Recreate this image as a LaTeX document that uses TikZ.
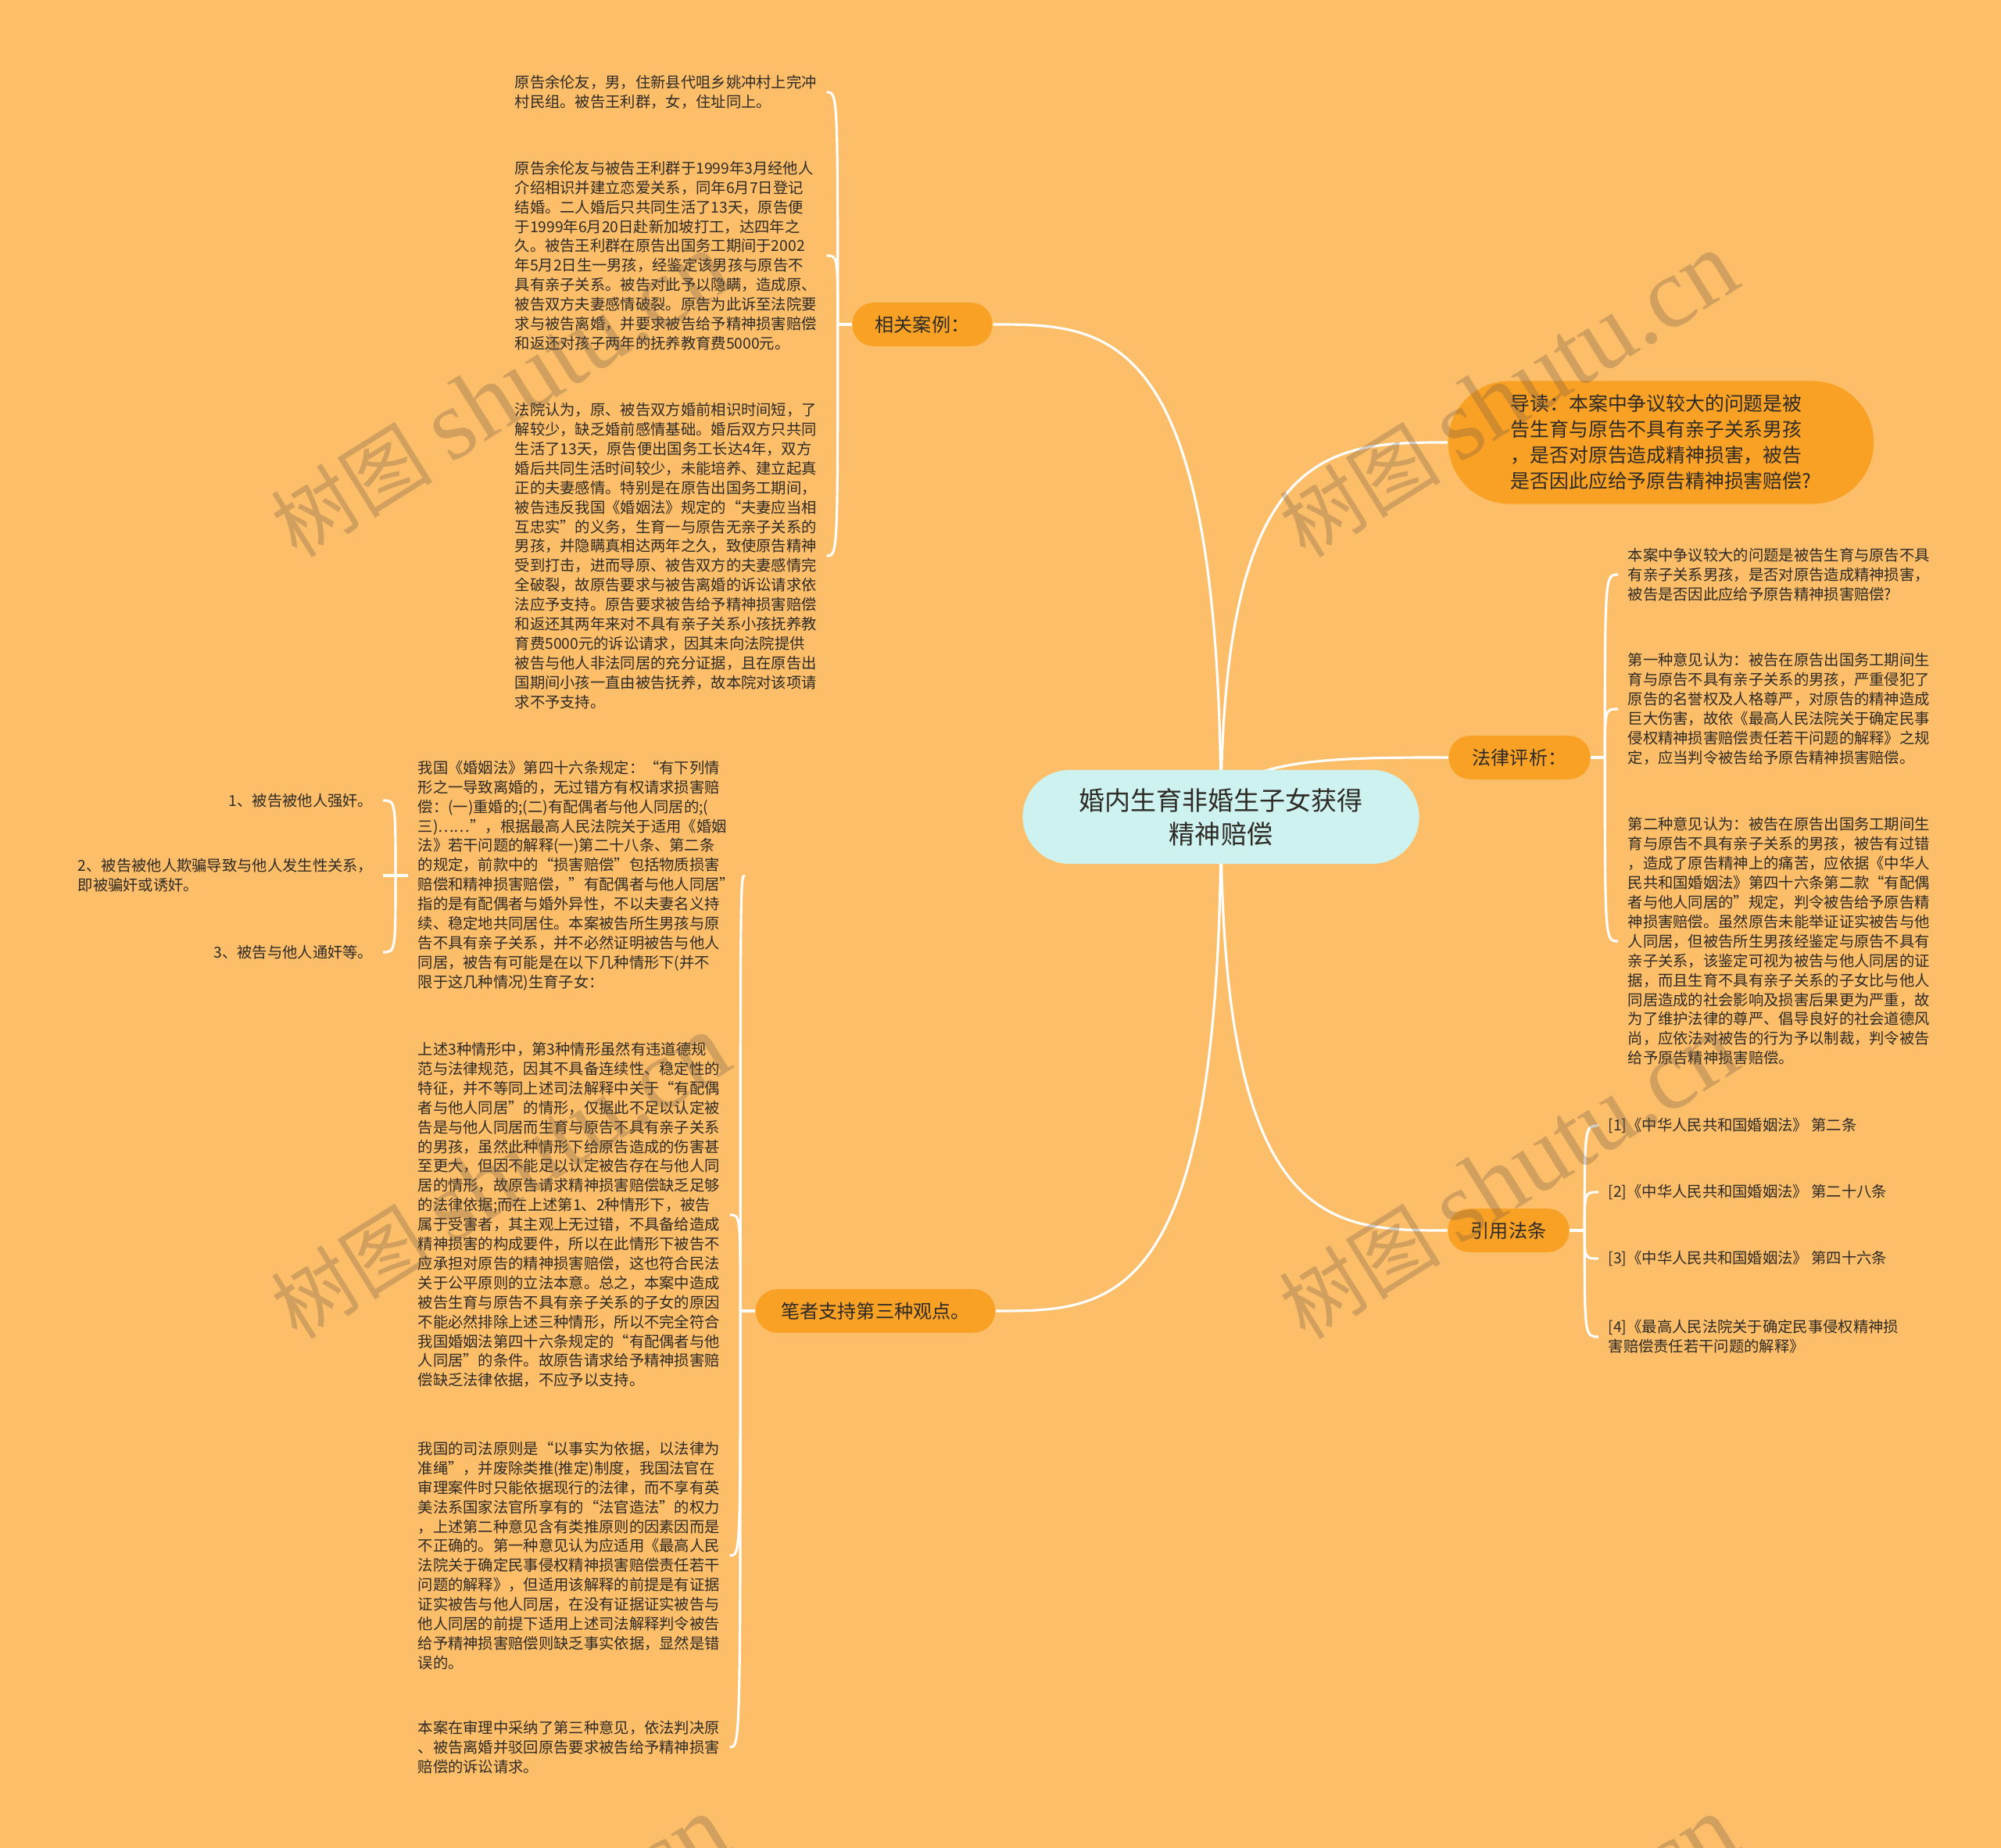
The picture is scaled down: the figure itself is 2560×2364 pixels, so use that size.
\documentclass[tikz,border=0pt]{standalone}
\usepackage{fontspec}
\setmainfont{Noto Sans CJK SC}
\newfontfamily\wmlatin{Liberation Serif}
\usetikzlibrary{calc}
\pgfdeclarelayer{bglayer}
\pgfdeclarelayer{edgelayer}
\pgfdeclarelayer{toplayer}
\pgfsetlayers{bglayer,edgelayer,main,toplayer}
\definecolor{bg}{HTML}{FDBE69}
\definecolor{orng}{HTML}{F9A124}
\definecolor{ctrfill}{HTML}{CDF2EF}
\definecolor{txt}{HTML}{2E2A25}
\definecolor{wm}{HTML}{6E5A46}
\begin{document}
\begin{tikzpicture}[x=0.01cm,y=-0.01cm,
  conn/.style={draw=white,line width=0.9pt},
  small/.style={font=\fontsize{5.49pt}{7.08pt}\selectfont,text=txt,align=left,inner xsep=0.12cm,inner ysep=0.05cm},
  branch/.style={fill=orng,rounded corners=0.27cm,font=\fontsize{6.85pt}{9.4pt}\selectfont,text=txt,inner sep=0pt,minimum height=0.555cm},
  wmark/.style={text=wm,opacity=0.3,rotate=32,inner sep=0pt}]

\begin{pgfonlayer}{bglayer}
\fill[bg] (0,0) rectangle (2560,2364);
\end{pgfonlayer}
\useasboundingbox (0,0) rectangle (2560,2364);

% central node
\node[fill=ctrfill,rounded corners=0.6cm,minimum width=5.07cm,minimum height=1.2cm,inner sep=0pt,align=center,
  font=\fontsize{9.39pt}{12.2pt}\selectfont,text=txt] (ctr) at (1562,1045) {婚内生育非婚生子女获得\\精神赔偿};

% branches
\node[branch,minimum width=1.79cm] (r1) at (1180,415) {相关案例：};
\node[fill=orng,rounded corners=0.78cm,minimum width=5.44cm,minimum height=1.57cm,inner sep=0pt,align=left,
  font=\fontsize{7.06pt}{9.39pt}\selectfont,text=txt] (r2) at (2125,566) {导读：本案中争议较大的问题是被\\告生育与原告不具有亲子关系男孩\\，是否对原告造成精神损害，被告\\是否因此应给予原告精神损害赔偿?};
\node[branch,minimum width=1.81cm] (r3) at (1944,969) {法律评析：};
\node[branch,minimum width=1.55cm] (r4) at (1930,1574) {引用法条};
\node[branch,minimum width=3.06cm] (r5) at (1120,1677) {笔者支持第三种观点。};

% children of r1
\node[small,anchor=west] (c11) at (646,118) {原告余伦友，男，住新县代咀乡姚冲村上完冲\\村民组。被告王利群，女，住址同上。};
\node[small,anchor=west] (c12) at (646,327) {原告余伦友与被告王利群于1999年3月经他人\\介绍相识并建立恋爱关系，同年6月7日登记\\结婚。二人婚后只共同生活了13天，原告便\\于1999年6月20日赴新加坡打工，达四年之\\久。被告王利群在原告出国务工期间于2002\\年5月2日生一男孩，经鉴定该男孩与原告不\\具有亲子关系。被告对此予以隐瞒，造成原、\\被告双方夫妻感情破裂。原告为此诉至法院要\\求与被告离婚，并要求被告给予精神损害赔偿\\和返还对孩子两年的抚养教育费5000元。};
\node[small,anchor=west] (c13) at (646,711) {法院认为，原、被告双方婚前相识时间短，了\\解较少，缺乏婚前感情基础。婚后双方只共同\\生活了13天，原告便出国务工长达4年，双方\\婚后共同生活时间较少，未能培养、建立起真\\正的夫妻感情。特别是在原告出国务工期间，\\被告违反我国《婚姻法》规定的“夫妻应当相\\互忠实”的义务，生育一与原告无亲子关系的\\男孩，并隐瞒真相达两年之久，致使原告精神\\受到打击，进而导原、被告双方的夫妻感情完\\全破裂，故原告要求与被告离婚的诉讼请求依\\法应予支持。原告要求被告给予精神损害赔偿\\和返还其两年来对不具有亲子关系小孩抚养教\\育费5000元的诉讼请求，因其未向法院提供\\被告与他人非法同居的充分证据，且在原告出\\国期间小孩一直由被告抚养，故本院对该项请\\求不予支持。};

% children of r3
\node[small,anchor=west] (c21) at (2070,735) {本案中争议较大的问题是被告生育与原告不具\\有亲子关系男孩，是否对原告造成精神损害，\\被告是否因此应给予原告精神损害赔偿?};
\node[small,anchor=west] (c22) at (2070,907) {第一种意见认为：被告在原告出国务工期间生\\育与原告不具有亲子关系的男孩，严重侵犯了\\原告的名誉权及人格尊严，对原告的精神造成\\巨大伤害，故依《最高人民法院关于确定民事\\侵权精神损害赔偿责任若干问题的解释》之规\\定，应当判令被告给予原告精神损害赔偿。};
\node[small,anchor=west] (c23) at (2070,1204) {第二种意见认为：被告在原告出国务工期间生\\育与原告不具有亲子关系的男孩，被告有过错\\，造成了原告精神上的痛苦，应依据《中华人\\民共和国婚姻法》第四十六条第二款“有配偶\\者与他人同居的”规定，判令被告给予原告精\\神损害赔偿。虽然原告未能举证证实被告与他\\人同居，但被告所生男孩经鉴定与原告不具有\\亲子关系，该鉴定可视为被告与他人同居的证\\据，而且生育不具有亲子关系的子女比与他人\\同居造成的社会影响及损害后果更为严重，故\\为了维护法律的尊严、倡导良好的社会道德风\\尚，应依法对被告的行为予以制裁，判令被告\\给予原告精神损害赔偿。};

% children of r4
\node[small,anchor=west] (c31) at (2045,1440) {[1]《中华人民共和国婚姻法》 第二条};
\node[small,anchor=west] (c32) at (2045,1525) {[2]《中华人民共和国婚姻法》 第二十八条};
\node[small,anchor=west] (c33) at (2045,1610) {[3]《中华人民共和国婚姻法》 第四十六条};
\node[small,anchor=west] (c34) at (2045,1710) {[4]《最高人民法院关于确定民事侵权精神损\\害赔偿责任若干问题的解释》};

% children of r5
\node[small,anchor=west] (c41) at (522,1120) {我国《婚姻法》第四十六条规定：“有下列情\\形之一导致离婚的，无过错方有权请求损害赔\\偿：(一)重婚的;(二)有配偶者与他人同居的;(\\三)……”，根据最高人民法院关于适用《婚姻\\法》若干问题的解释(一)第二十八条、第二条\\的规定，前款中的“损害赔偿”包括物质损害\\赔偿和精神损害赔偿，\symbol{34}有配偶者与他人同居\symbol{34}\\指的是有配偶者与婚外异性，不以夫妻名义持\\续、稳定地共同居住。本案被告所生男孩与原\\告不具有亲子关系，并不必然证明被告与他人\\同居，被告有可能是在以下几种情形下(并不\\限于这几种情况)生育子女：};
\node[small,anchor=west] (c42) at (522,1554) {上述3种情形中，第3种情形虽然有违道德规\\范与法律规范，因其不具备连续性、稳定性的\\特征，并不等同上述司法解释中关于“有配偶\\者与他人同居”的情形，仅据此不足以认定被\\告是与他人同居而生育与原告不具有亲子关系\\的男孩，虽然此种情形下给原告造成的伤害甚\\至更大，但因不能足以认定被告存在与他人同\\居的情形，故原告请求精神损害赔偿缺乏足够\\的法律依据;而在上述第1、2种情形下，被告\\属于受害者，其主观上无过错，不具备给造成\\精神损害的构成要件，所以在此情形下被告不\\应承担对原告的精神损害赔偿，这也符合民法\\关于公平原则的立法本意。总之，本案中造成\\被告生育与原告不具有亲子关系的子女的原因\\不能必然排除上述三种情形，所以不完全符合\\我国婚姻法第四十六条规定的“有配偶者与他\\人同居”的条件。故原告请求给予精神损害赔\\偿缺乏法律依据，不应予以支持。};
\node[small,anchor=west] (c43) at (522,1990) {我国的司法原则是“以事实为依据，以法律为\\准绳”，并废除类推(推定)制度，我国法官在\\审理案件时只能依据现行的法律，而不享有英\\美法系国家法官所享有的“法官造法”的权力\\，上述第二种意见含有类推原则的因素因而是\\不正确的。第一种意见认为应适用《最高人民\\法院关于确定民事侵权精神损害赔偿责任若干\\问题的解释》，但适用该解释的前提是有证据\\证实被告与他人同居，在没有证据证实被告与\\他人同居的前提下适用上述司法解释判令被告\\给予精神损害赔偿则缺乏事实依据，显然是错\\误的。};
\node[small,anchor=west] (c44) at (522,2235) {本案在审理中采纳了第三种意见，依法判决原\\、被告离婚并驳回原告要求被告给予精神损害\\赔偿的诉讼请求。};

% children of c41
\node[small,anchor=east] (i1) at (490,1024) {1、被告被他人强奸。};
\node[small,anchor=east] (i2) at (490,1120) {2、被告被他人欺骗导致与他人发生性关系，\\即被骗奸或诱奸。};
\node[small,anchor=east] (i3) at (490,1218) {3、被告与他人通奸等。};

\begin{pgfonlayer}{edgelayer}
% from centre
\draw[conn] (ctr.center) .. controls (ctr.center |- r1.east) and ($(r1.east)+(150,0)$) .. (r1.east);
\draw[conn] (ctr.center) .. controls (ctr.center |- r2.west) and ($(r2.west)+(-150,0)$) .. (r2.west);
\draw[conn] (ctr.center) .. controls (ctr.center |- r3.west) and ($(r3.west)+(-150,0)$) .. (r3.west);
\draw[conn] (ctr.center) .. controls (ctr.center |- r4.west) and ($(r4.west)+(-150,0)$) .. (r4.west);
\draw[conn] (ctr.center) .. controls (ctr.center |- r5.east) and ($(r5.east)+(150,0)$) .. (r5.east);
% r1
\coordinate (t1) at ($(r1.west)+(-18,0)$);
\draw[conn] (r1.west) -- (t1);
\foreach \c in {c11,c12,c13} \draw[conn] (t1) .. controls (t1 |- \c.east) .. (\c.east);
% r3
\coordinate (t3) at ($(r3.east)+(18,0)$);
\draw[conn] (r3.east) -- (t3);
\foreach \c in {c21,c22,c23} \draw[conn] (t3) .. controls (t3 |- \c.west) .. (\c.west);
% r4
\coordinate (t4) at ($(r4.east)+(19,0)$);
\draw[conn] (r4.east) -- (t4);
\foreach \c in {c31,c32,c33,c34} \draw[conn] (t4) .. controls (t4 |- \c.west) .. (\c.west);
% r5
\coordinate (t5) at ($(r5.west)+(-19,0)$);
\draw[conn] (r5.west) -- (t5);
\foreach \c in {c41,c42,c43,c44} \draw[conn] (t5) .. controls (t5 |- \c.east) .. (\c.east);
% c41
\coordinate (t6) at ($(c41.west)+(-16,0)$);
\draw[conn] (c41.west) -- (t6);
\foreach \c in {i1,i2,i3} \draw[conn] (t6) .. controls (t6 |- \c.east) .. (\c.east);
\end{pgfonlayer}

\begin{pgfonlayer}{toplayer}
\foreach \n/\px/\py in {wm1/640/506, wm2/1930/506, wm3/640/1506, wm4/1930/1506, wm5/640/2506, wm6/1930/2506}
  \node[wmark] (\n) at (\px,\py) {\fontsize{29.5pt}{31pt}\selectfont 树图 {\wmlatin\fontsize{36.5pt}{38pt}\selectfont shutu.cn}};
\end{pgfonlayer}
\end{tikzpicture}
\end{document}
